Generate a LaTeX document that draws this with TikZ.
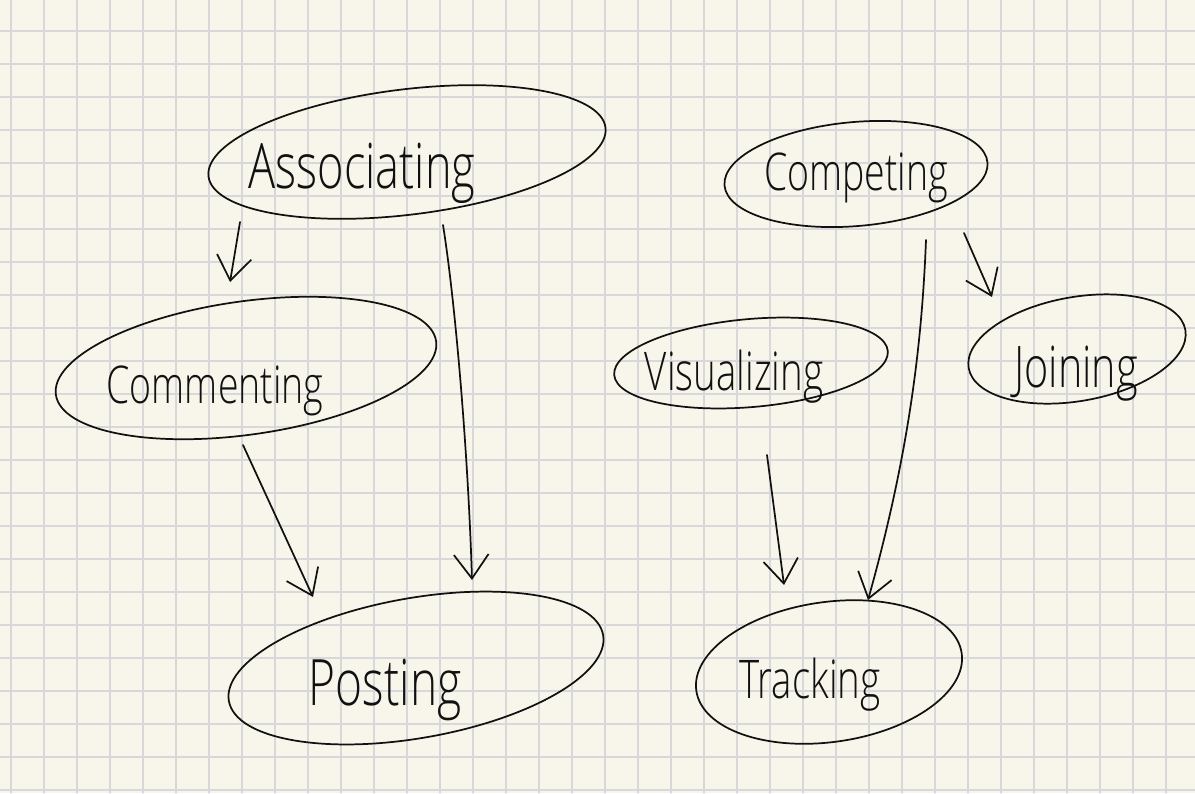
\documentclass[tikz,border=0pt]{standalone}
\usepackage{fontspec}
\setmainfont{Open Sans}
\newfontfamily\hand{Open Sans Light}
\usetikzlibrary{arrows.meta,calc,shapes.geometric}
\definecolor{paper}{HTML}{F8F6EB}
\definecolor{gridc}{HTML}{D8D8DB}
\definecolor{ink}{HTML}{111111}
\begin{document}
\begin{tikzpicture}[x=0.75pt,y=-0.75pt,line cap=round,line join=round,
  bubble/.style={draw=ink, ellipse, line width=1.3pt, inner sep=0pt},
  word/.style={anchor=base, xscale=0.72, inner sep=0pt, text=ink},
  link/.style={draw=ink, line width=1.3pt, -{Straight Barb[length=18pt,width=26pt,line width=1.3pt]}}]
\useasboundingbox (0,0) rectangle (1195,793);
\fill[paper] (0,0) rectangle (1195,793);
\foreach \i in {0,...,35} {\draw[gridc,line width=0.8pt] ({11+33*\i},0) -- ({11+33*\i},793);}
\foreach \j in {0,...,23} {\draw[gridc,line width=0.8pt] (0,{31+33*\j}) -- (1195,{31+33*\j});}

% ellipses
\node[bubble, minimum width=300pt, minimum height=94pt, rotate=7] (assoc) at (407,152) {};
\node[bubble, minimum width=288pt, minimum height=100pt, rotate=8] (comment) at (246,368) {};
\node[bubble, minimum width=285pt, minimum height=105pt, rotate=10] (post) at (416,668) {};
\node[bubble, minimum width=198pt, minimum height=78pt, rotate=5] (compet) at (856,174) {};
\node[bubble, minimum width=206pt, minimum height=66pt, rotate=5] (visual) at (751,363) {};
\node[bubble, minimum width=165pt, minimum height=78pt, rotate=10] (join) at (1077,349) {};
\node[bubble, minimum width=201pt, minimum height=105pt, rotate=8] (track) at (829,672) {};

% words
\node[word, font=\hand\fontsize{47}{50}\selectfont] (tassoc) at (362,188) {Associating};
\node[word, font=\hand\fontsize{39}{42}\selectfont] (tcomment) at (215,403) {Commenting};
\node[word, font=\hand\fontsize{48}{50}\selectfont] (tpost) at (385,705) {Posting};
\node[word, font=\hand\fontsize{39}{42}\selectfont] (tcompet) at (856,190) {Competing};
\node[word, font=\hand\fontsize{40}{44}\selectfont] (tvisual) at (734,390) {Visualizing};
\node[word, font=\hand\fontsize{43}{46}\selectfont] (tjoin) at (1076,387) {Joining};
\node[word, font=\hand\fontsize{40}{44}\selectfont] (ttrack) at (810,698) {Tracking};

% connectors
\draw[link] ($(assoc)+(-167,70)$) -- ($(comment)+(-16,-86)$);
\draw[link] ($(assoc)+(36,73)$) .. controls ($(assoc)+(48,148)$) and ($(post)+(52,-218)$) .. ($(post)+(56,-88)$);
\draw[link] ($(comment)+(-3,77)$) -- ($(post)+(-103,-71)$);
\draw[link] ($(compet)+(70,66)$) .. controls ($(compet)+(66,166)$) and ($(track)+(81,-222)$) .. ($(track)+(39,-72)$);
\draw[link] ($(compet)+(108,59)$) -- ($(join)+(-85,-52)$);
\draw[link] ($(visual)+(16,92)$) -- ($(track)+(-45,-87)$);
\end{tikzpicture}
\end{document}
